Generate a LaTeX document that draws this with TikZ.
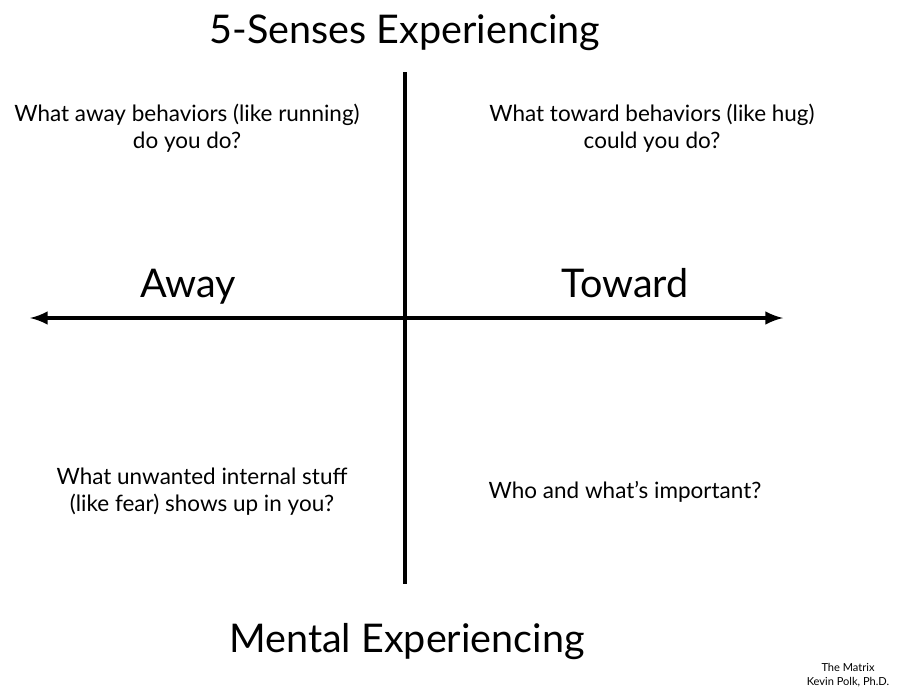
\documentclass[tikz,border=0pt]{standalone}
\usepackage{fontspec}
\setmainfont{Lato}
\usetikzlibrary{arrows, positioning}
\tikzstyle{title} = [font=\fontsize{22.5}{27}\selectfont, text centered]
\tikzstyle{side} = [font=\fontsize{22.5}{27}\selectfont, text centered, anchor=base]
\tikzstyle{question} = [font=\fontsize{12.8}{15.4}\selectfont, align=center]
\tikzstyle{credit} = [font=\fontsize{6.3}{7.6}\selectfont, align=center]

\begin{document}
\begin{tikzpicture}[x=0.02cm, y=-0.02cm]
			\useasboundingbox (0,0) rectangle (902,693);
			\coordinate (left) at (30,318);
			\coordinate (right) at (783,318);
			\coordinate (top) at (405,72);
			\coordinate (bottom) at (405,584);

			\node (senses) [title] at (405,33) {5-Senses Experiencing};
			\node (mental) [title] at (407,642) {Mental Experiencing};
			\node (away) [side] at (188,297) {Away};
			\node (toward) [side] at (625,297) {Toward};

			\node (q1) [question] at (187,128) {What away behaviors (like running)\\do you do?};
			\node (q2) [question] at (652,128) {What toward behaviors (like hug)\\could you do?};
			\node (q3) [question] at (202,492) {What unwanted internal stuff\\(like fear) shows up in you?};
			\node (q4) [question] at (625,492) {Who and what's important?};
			\node (matrix) [credit] at (848,675) {The Matrix\\Kevin Polk, Ph.D.};

			\draw[line width=2.4pt,<->,>=latex] (left) -- (right);
			\draw[line width=2.4pt] (top) -- (bottom);
\end{tikzpicture}
\end{document}
